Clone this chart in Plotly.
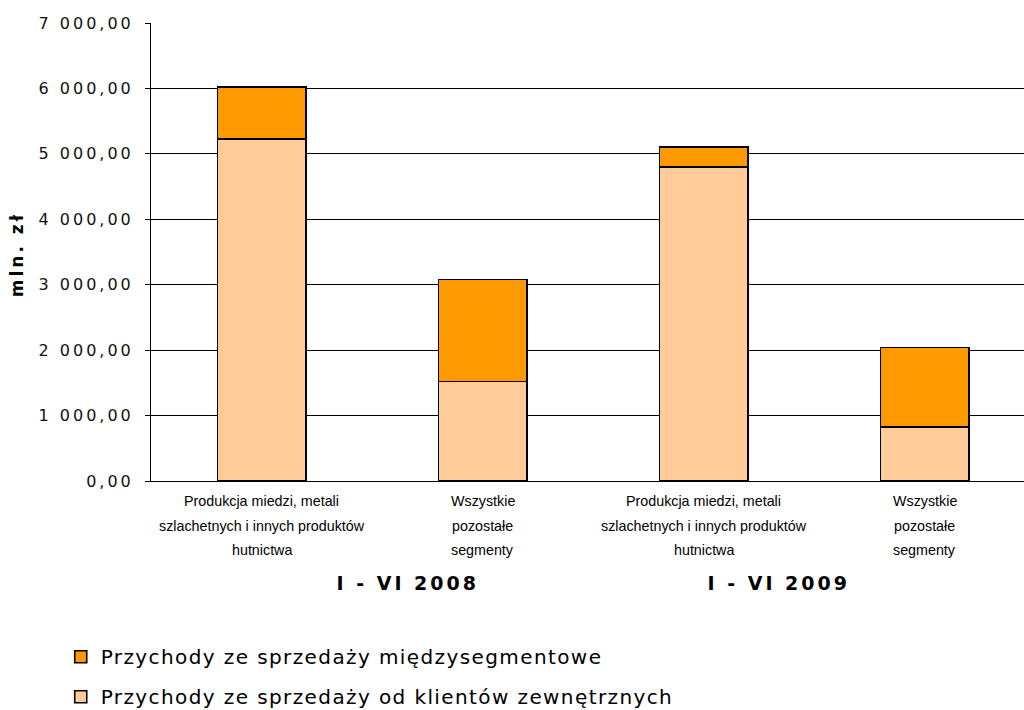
import plotly.graph_objects as go

# Revenue by segment, first half of 2008 and 2009 (mln zł)
periods = ["I - VI 2008", "I - VI 2009"]
segment_lines = [
    ["Produkcja miedzi, metali", "szlachetnych i innych produktów", "hutnictwa"],
    ["Wszystkie", "pozostałe", "segmenty"],
    ["Produkcja miedzi, metali", "szlachetnych i innych produktów", "hutnictwa"],
    ["Wszystkie", "pozostałe", "segmenty"],
]
external_sales = [5224, 1521, 4800, 822]
intersegment_sales = [796, 1561, 302, 1219]

series_names = [
    "Przychody ze sprzedaży od klientów zewnętrznych",
    "Przychody ze sprzedaży międzysegmentowe",
]

x_pos = list(range(len(segment_lines)))

fig = go.Figure()
fig.add_trace(go.Bar(
    x=x_pos, y=external_sales, name=series_names[0], legendgroup="ext", legendrank=2,
    marker=dict(color="#FFCC99", line=dict(color="#000000", width=1.6)),
    width=0.4,
))
fig.add_trace(go.Bar(
    x=x_pos, y=intersegment_sales, name=series_names[1], legendgroup="int", legendrank=1,
    marker=dict(color="#FF9900", line=dict(color="#000000", width=1.6)),
    width=0.4,
))

annotations = []
# segment labels under each bar, one line at a time
line_offsets = [-20, -45, -69]
for i, lines in enumerate(segment_lines):
    for j, txt in enumerate(lines):
        annotations.append(dict(
            x=i, xref="x", y=0, yref="paper", yanchor="middle", yshift=line_offsets[j],
            text=txt, showarrow=False,
            font=dict(family="Liberation Sans, Arial, sans-serif", size=14.3, color="#000000"),
        ))
# period labels
period_x = [0.66, 2.34]
for px, txt in zip(period_x, periods):
    annotations.append(dict(
        x=px, xref="x", y=0, yref="paper", yanchor="middle", yshift=-102,
        text="<b>" + txt + "</b>", showarrow=False,
        font=dict(family="DejaVu Sans, Verdana, sans-serif", size=19, color="#000000"),
    ))
# value axis title
annotations.append(dict(
    x=-0.153, xref="paper", y=0.495, yref="paper", xanchor="center", yanchor="middle",
    text="<b>mln. zł</b>", textangle=-90, showarrow=False,
    font=dict(family="DejaVu Sans, Verdana, sans-serif", size=17, color="#000000"),
))

fig.update_layout(
    width=1024, height=710,
    margin=dict(l=151, r=0, t=23, b=229, autoexpand=False),
    barmode="stack",
    separators=", ",
    plot_bgcolor="#FFFFFF", paper_bgcolor="#FFFFFF",
    font=dict(family="DejaVu Sans, Verdana, sans-serif", color="#000000"),
    xaxis=dict(
        range=[-0.5, 3.45], showticklabels=False, showgrid=False, zeroline=False,
        showline=True, linecolor="#000000", linewidth=1, ticks="",
    ),
    yaxis=dict(
        range=[0, 7000], dtick=1000, tickformat=",.2f",
        showgrid=True, gridcolor="#000000", gridwidth=1, zeroline=False,
        showline=True, linecolor="#000000", linewidth=1,
        ticks="outside", ticklen=5, tickcolor="#000000", ticklabelstandoff=8,
        tickfont=dict(family="DejaVu Sans, Verdana, sans-serif", size=16, color="#111111"),
    ),
    legend=dict(
        orientation="v", traceorder="grouped", tracegroupgap=11,
        x=-0.1034, xanchor="left", y=-0.341, yanchor="top",
        font=dict(family="DejaVu Sans, Verdana, sans-serif", size=20, color="#000000"),
        itemwidth=30, bgcolor="rgba(0,0,0,0)",
    ),
    annotations=annotations,
)

n_seg = sum(len(l) for l in segment_lines)
spacing_css = (
    ".ytick text{letter-spacing:3px}"
    ".legendtext{letter-spacing:1.4px}"
    ".legend .scrollbox{clip-path:none !important}"
    + "".join('.annotation[data-index="%d"] text{letter-spacing:3px}' % (n_seg + k) for k in range(len(periods)))
    + '.annotation[data-index="%d"] text{letter-spacing:3px}' % (n_seg + len(periods))
)
post = "var s=document.createElement('style');s.textContent='%s';document.head.appendChild(s);" % spacing_css

fig.write_html("out.html", post_script=post)
